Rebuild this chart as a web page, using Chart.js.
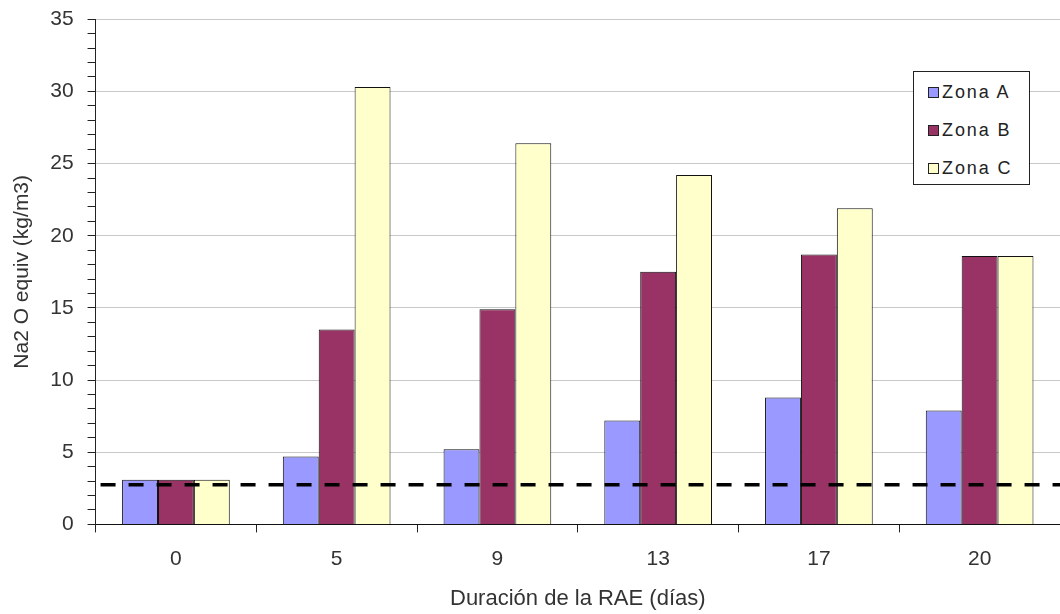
<!DOCTYPE html>
<html>
<head>
<meta charset="utf-8">
<script src="https://cdn.jsdelivr.net/npm/chart.js@4/dist/chart.umd.min.js"></script>
<style>
  html, body { margin: 0; padding: 0; background: #fff; }
  #wrap { position: relative; width: 1060px; height: 614px; }
  #leyenda {
    position: absolute; left: 913px; top: 71px; width: 115px; height: 112px;
    border: 1px solid #222; background: #fff;
    font-family: "Liberation Sans", Arial, sans-serif; font-size: 18px; color: #222;
    letter-spacing: 1.9px;
  }
  #leyenda div { position: absolute; left: 14px; height: 20px; line-height: 20px; white-space: nowrap; }
  #leyenda span.marca { display: inline-block; width: 9px; height: 9px; border: 1px solid #222; margin-right: 3px; vertical-align: 0px; }
</style>
</head>
<body>
<div id="wrap">
  <canvas id="grafico" width="1060" height="614"></canvas>
  <div id="leyenda"></div>
</div>
<script>
// Datos
const dias = ['0', '5', '9', '13', '17', '20'];
const zonaA = [3.1, 4.7, 5.2, 7.2, 8.8, 7.9];
const zonaB = [3.1, 13.5, 14.9, 17.5, 18.7, 18.6];
const zonaC = [3.1, 30.3, 26.4, 24.2, 21.9, 18.6];
const limite = 2.75; // línea discontinua

const series = [
  { label: 'Zona A', data: zonaA, color: '#9999FF' },
  { label: 'Zona B', data: zonaB, color: '#993366' },
  { label: 'Zona C', data: zonaC, color: '#FFFFCC' },
];

const fuente = '"Liberation Sans", Arial, sans-serif';

const datasets = series.map(s => ({
  label: s.label,
  data: s.data,
  backgroundColor: s.color,
  borderColor: '#111',
  borderWidth: 1,
  categoryPercentage: 0.67,
  barPercentage: 1.0,
}));

// línea horizontal discontinua a todo lo ancho del área del gráfico
const lineaLimite = {
  id: 'lineaLimite',
  afterDatasetsDraw(chart) {
    const { ctx, chartArea, scales } = chart;
    const y = scales.y.getPixelForValue(limite);
    ctx.save();
    ctx.strokeStyle = '#000';
    ctx.lineWidth = 3.5;
    ctx.setLineDash([15, 13]);
    ctx.beginPath();
    ctx.moveTo(chartArea.left + 5, y);
    ctx.lineTo(chartArea.right, y);
    ctx.stroke();
    ctx.restore();
  },
};

const ctx = document.getElementById('grafico').getContext('2d');
new Chart(ctx, {
  type: 'bar',
  data: { labels: dias, datasets: datasets },
  plugins: [lineaLimite],
  options: {
    responsive: false,
    animation: false,
    layout: { padding: { top: 0, right: 0, left: 6, bottom: 0 } },
    plugins: { legend: { display: false }, tooltip: { enabled: false } },
    scales: {
      x: {
        grid: { offset: true, color: 'rgba(0,0,0,0)', tickColor: '#222', tickLength: 8, drawOnChartArea: false },
        border: { color: '#111', width: 1 },
        ticks: { color: '#333', font: { family: fuente, size: 21 }, padding: 14 },
        title: { display: true, text: 'Duración de la RAE (días)', color: '#333', font: { family: fuente, size: 22 }, padding: { top: 0, bottom: 2 } },
      },
      y: {
        min: 0, max: 35,
        ticks: {
          stepSize: 1, autoSkip: false, color: '#333', padding: 14,
          font: { family: fuente, size: 21, lineHeight: 0.5 },
          callback: v => (v % 5 === 0 ? v : ''),
        },
        grid: {
          color: c => (c.tick && c.tick.value % 5 === 0 && c.tick.value !== 0 ? '#c8c8c8' : 'rgba(0,0,0,0)'),
          tickColor: '#222', tickLength: 8,
        },
        border: { color: '#222', width: 1 },
        title: { display: true, text: 'Na2 O equiv (kg/m3)', color: '#333', font: { family: fuente, size: 21 }, padding: { top: 4, bottom: 1 } },
      },
    },
  },
});

// leyenda en HTML
const leyenda = document.getElementById('leyenda');
series.forEach((s, i) => {
  const d = document.createElement('div');
  d.style.top = (10 + i * 38) + 'px';
  d.innerHTML = '<span class="marca" style="background:' + s.color + '"></span>' + s.label;
  leyenda.appendChild(d);
});
</script>
</body>
</html>
